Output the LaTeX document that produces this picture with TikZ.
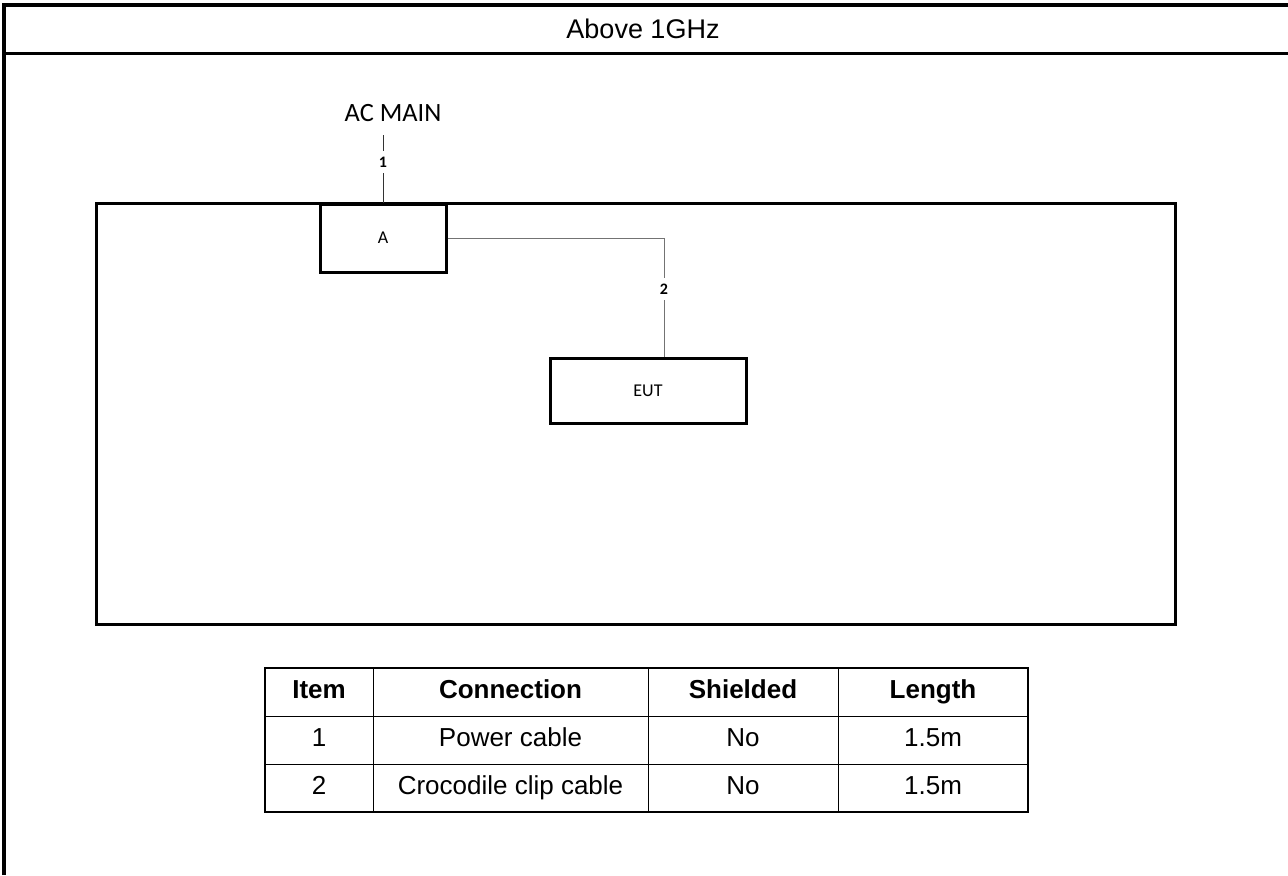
\documentclass[tikz,border=0pt]{standalone}
\usepackage{fontspec}
\setmainfont{Liberation Sans}
\newfontfamily\tablesans{Liberation Sans}
\newfontfamily\calibrisans{Carlito}
\usetikzlibrary{positioning}
\tikzset{
  outerframe/.style={
    line width=2pt
  },
  headrule/.style={
    line width=1.5pt
  },
  setuparea/.style={
    rectangle,
    draw=black,
    line width=1.5pt,
    minimum width=539.5pt,
    minimum height=210.5pt,
    inner sep=0pt
  },
  device/.style={
    rectangle,
    draw=black,
    line width=1.5pt,
    inner sep=0pt,
    font=\calibrisans\fontsize{9}{11}\selectfont
  },
  cable/.style={
    line width=0.5pt,
    black!80
  },
  cablelabel/.style={
    inner sep=3pt,
    outer sep=0pt,
    font=\calibrisans\bfseries\fontsize{8}{9}\selectfont
  },
  cell/.style={
    rectangle,
    draw=black,
    line width=0.5pt,
    minimum height=24pt,
    inner sep=0pt,
    outer sep=0pt,
    text height=1.6ex,
    text depth=0.4ex,
    font=\tablesans\fontsize{13}{15}\selectfont
  },
  headcell/.style={
    cell,
    font=\tablesans\bfseries\fontsize{13}{15}\selectfont
  },
  tableframe/.style={
    line width=1pt
  }
}

\begin{document}
\begin{tikzpicture}[x=0.5pt, y=-0.5pt]
  \useasboundingbox (0,0) rectangle (1288,875);

  % Frame and heading
  \draw[outerframe] (4,875) -- (4,5) -- (1288,5);
  \draw[headrule] (4,53) -- (1288,53);
  \node[font=\tablesans\fontsize{13.5}{16}\selectfont] (title) at (643,29) {Above 1GHz};

  % Test set-up
  \node[setuparea] (setup) at (635.5,414) {};
  \node[device, minimum width=63pt, minimum height=34pt] (A) at (383,238) {A};
  \node[device, minimum width=98pt, minimum height=32.5pt] (EUT) at (648,390.5) {EUT};

  % Cables
  \node[font=\calibrisans\fontsize{13.2}{15}\selectfont] (acmain) at (393,113) {AC MAIN};
  \coordinate (mains) at (383,135);
  \node[cablelabel] (c1) at (383,162) {1};
  \node[cablelabel] (c2) at (664,289) {2};
  \draw[cable] (mains) -- (c1);
  \draw[cable] (c1) -- (A);
  \draw[cable, black!55] (A.east) -| (c2);
  \draw[cable, black!55] (c2) -- (c2 |- EUT.north);

  % Cable list
  \node[headcell, minimum width=54pt] (item-h) at (319,692) {Item};
  \node[headcell, minimum width=137.5pt] (conn-h) at (510.5,692) {Connection};
  \node[headcell, minimum width=95pt] (shield-h) at (743,692) {Shielded};
  \node[headcell, minimum width=95pt] (len-h) at (933,692) {Length};

  \node[cell, minimum width=54pt] (item-1) at (319,740) {1};
  \node[cell, minimum width=137.5pt] (conn-1) at (510.5,740) {Power cable};
  \node[cell, minimum width=95pt] (shield-1) at (743,740) {No};
  \node[cell, minimum width=95pt] (len-1) at (933,740) {1.5m};

  \node[cell, minimum width=54pt] (item-2) at (319,788) {2};
  \node[cell, minimum width=137.5pt] (conn-2) at (510.5,788) {Crocodile clip cable};
  \node[cell, minimum width=95pt] (shield-2) at (743,788) {No};
  \node[cell, minimum width=95pt] (len-2) at (933,788) {1.5m};

  \draw[tableframe] (item-h.north west) rectangle (len-2.south east);
\end{tikzpicture}
\end{document}
